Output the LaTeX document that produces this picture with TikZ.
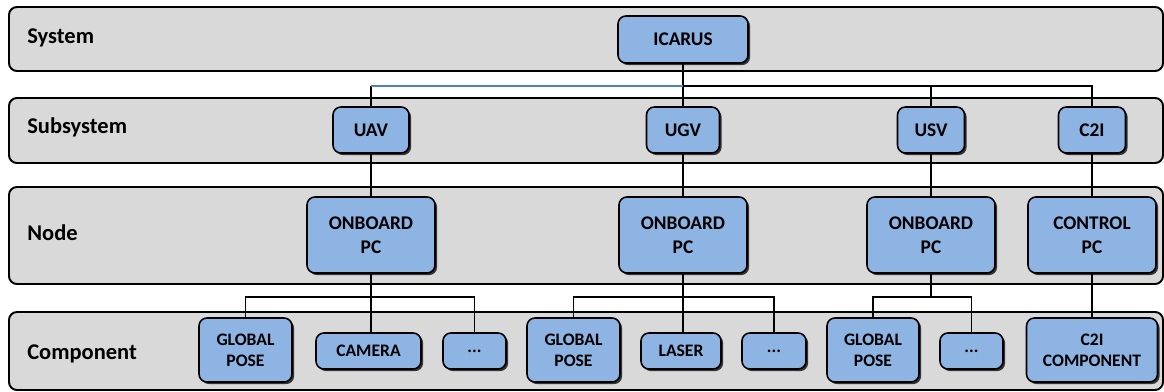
\documentclass[tikz,border=0pt]{standalone}
\usepackage{fontspec}
\setmainfont{Carlito}
\usetikzlibrary{shadows, positioning}

\definecolor{lanegray}{RGB}{217,217,217}
\definecolor{boxblue}{RGB}{141,180,226}
\definecolor{linkblue}{RGB}{79,129,189}

\tikzset{
  lane/.style={draw=black, line width=1.1pt, fill=lanegray, rounded corners=4.5pt},
  lanelabel/.style={anchor=base west, inner sep=0pt, font=\fontsize{12.8}{15}\selectfont\bfseries},
  blk/.style={draw=black, line width=0.9pt, fill=boxblue, rounded corners=4.5pt,
    align=center, inner sep=0pt, font=\fontsize{11}{13.6}\selectfont\bfseries,
    drop shadow={shadow xshift=1.2pt, shadow yshift=-1.2pt, fill=black!80, opacity=1}},
  comp/.style={blk, font=\fontsize{10}{12}\selectfont\bfseries},
  link/.style={draw=black, line width=1.1pt},
}

\begin{document}
\begin{tikzpicture}[x=0.02cm, y=-0.02cm]
    \useasboundingbox (0,0) rectangle (1164,392);

    % levels
    \draw[lane] (9,7) rectangle (1163,71);
    \draw[lane] (9,98) rectangle (1163,163);
    \draw[lane] (9,187) rectangle (1163,284);
    \draw[lane] (9,312) rectangle (1163,390);
    \node[lanelabel] (lsystem) at (27,43) {System};
    \node[lanelabel] (lsubsystem) at (27,133) {Subsystem};
    \node[lanelabel] (lnode) at (27,240) {Node};
    \node[lanelabel] (lcomponent) at (27,359) {Component};

    % system and subsystems
    \node[blk, minimum width=2.6cm, minimum height=0.94cm] (icarus) at (683,39.5) {ICARUS};
    \node[blk, minimum width=1.52cm, minimum height=0.92cm] (uav) at (371,130) {UAV};
    \node[blk, minimum width=1.46cm, minimum height=0.92cm] (ugv) at (683,130) {UGV};
    \node[blk, minimum width=1.34cm, minimum height=0.92cm] (usv) at (931,130) {USV};
    \node[blk, minimum width=1.34cm, minimum height=0.92cm] (c2i) at (1092,130) {C2I};

    % nodes
    \node[blk, minimum width=2.56cm, minimum height=1.52cm] (uavpc) at (371,235) {ONBOARD\\PC};
    \node[blk, minimum width=2.56cm, minimum height=1.52cm] (ugvpc) at (683,235) {ONBOARD\\PC};
    \node[blk, minimum width=2.56cm, minimum height=1.52cm] (usvpc) at (931,235) {ONBOARD\\PC};
    \node[blk, minimum width=2.56cm, minimum height=1.52cm] (controlpc) at (1092,235) {CONTROL\\PC};

    % components
    \node[comp, minimum width=1.86cm, minimum height=1.28cm] (uavpose) at (245.5,350) {GLOBAL\\POSE};
    \node[comp, minimum width=2.1cm, minimum height=0.72cm] (camera) at (368.5,351) {CAMERA};
    \node[comp, minimum width=1.26cm, minimum height=0.72cm] (uavdots) at (474.5,351) {...};
    \node[comp, minimum width=1.86cm, minimum height=1.28cm] (ugvpose) at (573.5,350) {GLOBAL\\POSE};
    \node[comp, minimum width=1.6cm, minimum height=0.72cm] (laser) at (681,351) {LASER};
    \node[comp, minimum width=1.28cm, minimum height=0.72cm] (ugvdots) at (774,351) {...};
    \node[comp, minimum width=1.84cm, minimum height=1.28cm] (usvpose) at (873,350) {GLOBAL\\POSE};
    \node[comp, minimum width=1.26cm, minimum height=0.72cm] (usvdots) at (971.5,351) {...};
    \node[comp, minimum width=2.62cm, minimum height=1.28cm] (c2icomp) at (1092,350) {C2I\\COMPONENT};

    % buses
    \coordinate (topbus) at (683,86);
    \coordinate (uavbus) at (371,297);
    \coordinate (ugvbus) at (683,297);
    \coordinate (usvbus) at (931,297);

    \draw[link] (icarus.south) -- (ugv.north);
    \draw[link] (uav.north) -- (uav.north |- topbus);
    \draw[link, draw=linkblue] (uav.north |- topbus) -- (topbus);
    \draw[link] (topbus) -| (c2i.north);
    \draw[link] (usv.north) -- (usv.north |- topbus);

    \draw[link] (uav.south) -- (uavpc.north);
    \draw[link] (ugv.south) -- (ugvpc.north);
    \draw[link] (usv.south) -- (usvpc.north);
    \draw[link] (c2i.south) -- (controlpc.north);

    \draw[link] (uavpc.south) -- (uavpc.south |- camera.north);
    \draw[link] (uavpose.north) |- (uavbus) -| (uavdots.north);
    \draw[link] (ugvpc.south) -- (ugvpc.south |- laser.north);
    \draw[link] (ugvpose.north) |- (ugvbus) -| (ugvdots.north);
    \draw[link] (usvpc.south) -- (usvbus);
    \draw[link] (usvpose.north) |- (usvbus) -| (usvdots.north);
    \draw[link] (controlpc.south) -- (c2icomp.north);
\end{tikzpicture}
\end{document}
